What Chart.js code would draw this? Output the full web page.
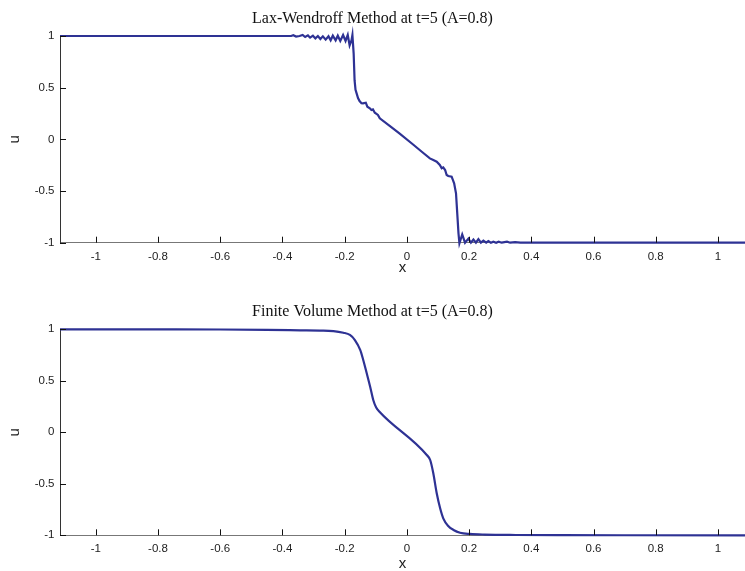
<!DOCTYPE html>
<html>
<head>
<meta charset="utf-8">
<script src="https://cdn.jsdelivr.net/npm/chart.js@4/dist/chart.umd.min.js"></script>
<style>
html,body{margin:0;padding:0;background:#fff;}
canvas{display:block;}
</style>
</head>
<body>
<canvas id="c1" width="745" height="286"></canvas>
<canvas id="c2" width="745" height="285"></canvas>
<script>
// ---- data ----
const xTicks = [-1, -0.8, -0.6, -0.4, -0.2, 0, 0.2, 0.4, 0.6, 0.8, 1];
const yTicks = [-1, -0.5, 0, 0.5, 1];
const xMin = -1.115, xMax = 1.087;

const lwX = [-1.115, -0.40, -0.372, -0.365, -0.356, -0.345, -0.335, -0.327, -0.318, -0.311, -0.302, -0.294, -0.286, -0.278, -0.270, -0.261, -0.252, -0.245, -0.238, -0.229, -0.222, -0.214, -0.205, -0.197, -0.190, -0.184, -0.178, -0.175, -0.171, -0.168, -0.165, -0.161, -0.157, -0.152, -0.146, -0.141, -0.132, -0.127, -0.119, -0.114, -0.109, -0.103, -0.093, -0.087, -0.05, -0.023, 0.02, 0.05, 0.074, 0.085, 0.096, 0.106, 0.112, 0.117, 0.123, 0.128, 0.133, 0.144, 0.152, 0.158, 0.162, 0.166, 0.169, 0.178, 0.187, 0.198, 0.206, 0.214, 0.222, 0.230, 0.238, 0.246, 0.255, 0.262, 0.270, 0.278, 0.287, 0.295, 0.305, 0.322, 0.332, 0.348, 0.365, 1.087];
const lwU = [1, 1, 1.0, 1.008, 0.995, 1.0, 1.01, 0.99, 1.006, 0.984, 1.003, 0.977, 1.0, 0.971, 0.997, 0.965, 0.997, 0.958, 1.003, 0.958, 1.003, 0.952, 1.01, 0.952, 1.01, 0.91, 0.958, 1.01, 0.83, 0.57, 0.48, 0.44, 0.40, 0.37, 0.35, 0.349, 0.355, 0.316, 0.300, 0.284, 0.290, 0.258, 0.236, 0.203, 0.118, 0.055, -0.05, -0.125, -0.184, -0.200, -0.216, -0.248, -0.280, -0.271, -0.297, -0.345, -0.355, -0.361, -0.425, -0.522, -0.716, -0.909, -1.006, -0.92, -1.0, -0.96, -1.0, -0.97, -1.0, -0.965, -1.0, -0.98, -1.0, -0.985, -1.0, -0.99, -1.0, -0.99, -1.0, -0.99, -1.0, -0.995, -1.0, -1.0];

const fvX = [-1.115, -0.8, -0.6, -0.45, -0.343, -0.28, -0.236, -0.204, -0.183, -0.167, -0.150, -0.140, -0.129, -0.118, -0.108, -0.099, -0.088, 0.064, 0.075, 0.085, 0.096, 0.107, 0.117, 0.133, 0.150, 0.171, 0.203, 0.25, 0.35, 0.5, 1.087];
const fvU = [1.0, 0.999, 0.998, 0.995, 0.99, 0.987, 0.983, 0.967, 0.945, 0.896, 0.80, 0.70, 0.573, 0.443, 0.314, 0.243, 0.20, -0.22, -0.269, -0.398, -0.592, -0.738, -0.835, -0.91, -0.948, -0.975, -0.987, -0.993, -0.997, -0.999, -1.0];

const titles = ['Lax-Wendroff Method at t=5 (A=0.8)', 'Finite Volume Method at t=5 (A=0.8)'];
const xLabel = 'x', yLabel = 'u';

// ---- styling ----
const lineColor = 'rgb(46,50,148)';
const tickFont = {family: '"Liberation Sans", Arial, sans-serif', size: 11.5};
const axisTitleFont = {family: '"Liberation Sans", Arial, sans-serif', size: 15, lineHeight: 1};
const titleFont = {family: '"Liberation Serif", "Times New Roman", serif', size: 16, weight: 'normal', lineHeight: 1.2};

const inwardTicks = {
  id: 'inwardTicks',
  afterDraw(chart) {
    const {ctx, chartArea: a, scales: {x, y}} = chart;
    ctx.save();
    ctx.strokeStyle = '#111';
    ctx.lineWidth = 1;
    x.ticks.forEach(t => {
      const px = Math.round(x.getPixelForValue(t.value)) + 0.5;
      ctx.beginPath(); ctx.moveTo(px, a.bottom); ctx.lineTo(px, a.bottom - 6); ctx.stroke();
    });
    y.ticks.forEach(t => {
      const py = Math.round(y.getPixelForValue(t.value)) + 0.5;
      ctx.beginPath(); ctx.moveTo(a.left, py); ctx.lineTo(a.left + 6, py); ctx.stroke();
    });
    ctx.restore();
  }
};

function makeChart(id, xs, us, title, titlePad, xHeight, xTitlePadBottom, interp) {
  return new Chart(document.getElementById(id), {
    type: 'scatter',
    data: {
      datasets: [{
        data: xs.map((v, i) => ({x: v, y: us[i]})),
        showLine: true,
        borderColor: lineColor,
        borderWidth: 2.2,
        pointRadius: 0,
        tension: 0,
        cubicInterpolationMode: interp,
        clip: false
      }]
    },
    options: {
      responsive: false,
      animation: false,
      devicePixelRatio: 1,
      layout: {padding: {left: 0, right: 0, top: 0, bottom: 0}},
      plugins: {
        legend: {display: false},
        tooltip: {enabled: false},
        title: {display: true, text: title, color: '#111', font: titleFont, padding: titlePad}
      },
      scales: {
        x: {
          type: 'linear', min: xMin, max: xMax,
          afterBuildTicks: s => { s.ticks = xTicks.map(v => ({value: v})); },
          afterFit: s => { s.height = xHeight; },
          grid: {display: false, drawTicks: false},
          border: {display: true, color: '#777', width: 1},
          ticks: {color: '#222', font: tickFont, padding: 7, maxRotation: 0, autoSkip: false,
                  callback: v => String(v)},
          title: {display: true, text: xLabel, color: '#222', font: axisTitleFont, padding: {top: 0, bottom: xTitlePadBottom}}
        },
        y: {
          type: 'linear', min: -1, max: 1,
          afterBuildTicks: s => { s.ticks = yTicks.map(v => ({value: v})); },
          afterFit: s => { s.width = 60; },
          grid: {display: false, drawTicks: false},
          border: {display: true, color: '#333', width: 1},
          ticks: {color: '#222', font: tickFont, padding: 5.5, autoSkip: false,
                  callback: v => String(v)},
          title: {display: true, text: yLabel, color: '#222', font: axisTitleFont, padding: {top: 7.5, bottom: 0}}
        }
      }
    },
    plugins: [inwardTicks]
  });
}

makeChart('c1', lwX, lwU, titles[0], {top: 9, bottom: 7.8}, 43.3, 11, 'default');
makeChart('c2', fvX, fvU, titles[1], {top: 15.8, bottom: 8.3}, 35.7, 0, 'monotone');
</script>
</body>
</html>
